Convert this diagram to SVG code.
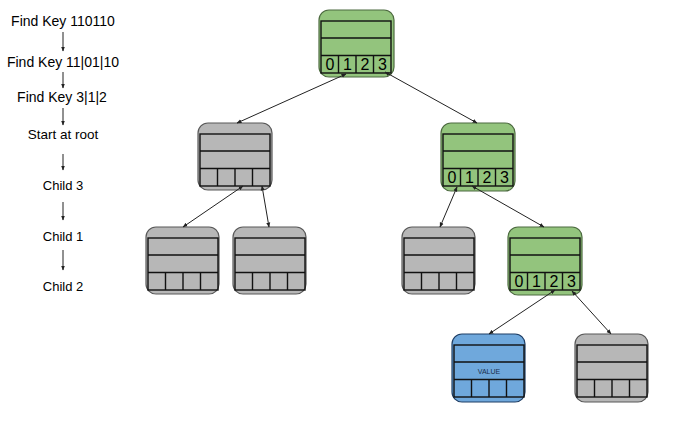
<svg xmlns="http://www.w3.org/2000/svg" width="700" height="441" viewBox="0 0 700 441">
<style>
.bg{fill:#ffffff}
.lbl{font-family:"Liberation Sans",Arial,sans-serif;fill:#000;text-anchor:middle}
.outer{stroke-width:1.2}
.gray .outer{fill:#b7b7b7;stroke:#595959}
.green .outer{fill:#93c47d;stroke:#4d6b40}
.blue .outer{fill:#6fa8dc;stroke:#1f3f66}
.inner{fill:none;stroke:#111;stroke-width:1.4}
.dig{font-family:"Liberation Sans",Arial,sans-serif;font-size:16px;fill:#000;text-anchor:middle}
.val{font-family:"Liberation Sans",Arial,sans-serif;font-size:7px;fill:#1a2f4d;text-anchor:middle}
.conn line{stroke:#222;stroke-width:1}
.steps line{stroke:#222;stroke-width:1}
</style>
<defs>
<marker id="ah" viewBox="0 0 10 10" refX="9" refY="5" markerWidth="5" markerHeight="5" orient="auto-start-reverse" markerUnits="userSpaceOnUse">
<path d="M0,1 L10,5 L0,9 z" fill="#222"/>
</marker>
<g id="grid">
<rect class="inner" x="2" y="11" width="70" height="52"/>
<path class="inner" d="M2,28 H72 M2,45.5 H72 M19.5,45.5 V63 M37,45.5 V63 M54.5,45.5 V63"/>
</g>
<g id="digits">
<text class="dig" x="11" y="60">0</text>
<text class="dig" x="28.5" y="60">1</text>
<text class="dig" x="46" y="60">2</text>
<text class="dig" x="63.5" y="60">3</text>
</g>
</defs>
<rect class="bg" x="0" y="0" width="700" height="441"/>

<g id="steps">
<text class="lbl" x="63" y="26" font-size="14">Find Key 110110</text>
<text class="lbl" x="63" y="67" font-size="14">Find Key 11|01|10</text>
<text class="lbl" x="62" y="102" font-size="14">Find Key 3|1|2</text>
<text class="lbl" x="63" y="139" font-size="13.5">Start at root</text>
<text class="lbl" x="63" y="190" font-size="13">Child 3</text>
<text class="lbl" x="63" y="241" font-size="13">Child 1</text>
<text class="lbl" x="63" y="291" font-size="13">Child 2</text>
</g>
<g class="steps" id="step-arrows">
<line x1="63" y1="32" x2="63" y2="51" marker-end="url(#ah)"/>
<line x1="63" y1="72" x2="63" y2="88" marker-end="url(#ah)"/>
<line x1="63" y1="108" x2="63" y2="125" marker-end="url(#ah)"/>
<line x1="63" y1="154" x2="63" y2="170" marker-end="url(#ah)"/>
<line x1="63" y1="202" x2="63" y2="220" marker-end="url(#ah)"/>
<line x1="63" y1="250" x2="63" y2="270" marker-end="url(#ah)"/>
</g>

<g id="root" class="green" transform="translate(319,10)">
<rect class="outer" x="0" y="0" width="75" height="67" rx="10"/>
<use href="#grid"/><use href="#digits"/>
</g>
<g id="l2-left" class="gray" transform="translate(198,123)">
<rect class="outer" x="0" y="0" width="74" height="67" rx="10"/>
<use href="#grid"/>
</g>
<g id="l2-right" class="green" transform="translate(441,123)">
<rect class="outer" x="0" y="0" width="74" height="68" rx="10"/>
<use href="#grid"/><use href="#digits"/>
</g>
<g id="l3-a" class="gray" transform="translate(146,227)">
<rect class="outer" x="0" y="0" width="73" height="67" rx="10"/>
<use href="#grid"/>
</g>
<g id="l3-b" class="gray" transform="translate(233,227)">
<rect class="outer" x="0" y="0" width="73" height="67" rx="10"/>
<use href="#grid"/>
</g>
<g id="l3-c" class="gray" transform="translate(402,227)">
<rect class="outer" x="0" y="0" width="73" height="67" rx="10"/>
<use href="#grid"/>
</g>
<g id="l3-d" class="green" transform="translate(508,227)">
<rect class="outer" x="0" y="0" width="74" height="68" rx="10"/>
<use href="#grid"/><use href="#digits"/>
</g>
<g id="l4-value" class="blue" transform="translate(452,334)">
<rect class="outer" x="0" y="0" width="73" height="68" rx="10"/>
<use href="#grid"/>
<text class="val" x="37" y="39.5">VALUE</text>
</g>
<g id="l4-right" class="gray" transform="translate(575,334)">
<rect class="outer" x="0" y="0" width="73" height="68" rx="10"/>
<use href="#grid"/>
</g>

<g class="conn" id="connectors">
<line x1="346" y1="74" x2="237" y2="123" marker-start="url(#ah)" marker-end="url(#ah)"/>
<line x1="385" y1="72" x2="477" y2="123" marker-start="url(#ah)" marker-end="url(#ah)"/>
<line x1="243" y1="186" x2="183" y2="227" marker-start="url(#ah)" marker-end="url(#ah)"/>
<line x1="262" y1="186" x2="269" y2="227" marker-start="url(#ah)" marker-end="url(#ah)"/>
<line x1="457" y1="187" x2="440" y2="227" marker-start="url(#ah)" marker-end="url(#ah)"/>
<line x1="472" y1="186" x2="544" y2="227" marker-start="url(#ah)" marker-end="url(#ah)"/>
<line x1="555" y1="290" x2="489" y2="334" marker-start="url(#ah)" marker-end="url(#ah)"/>
<line x1="572" y1="291" x2="611" y2="334" marker-start="url(#ah)" marker-end="url(#ah)"/>
</g>
</svg>
